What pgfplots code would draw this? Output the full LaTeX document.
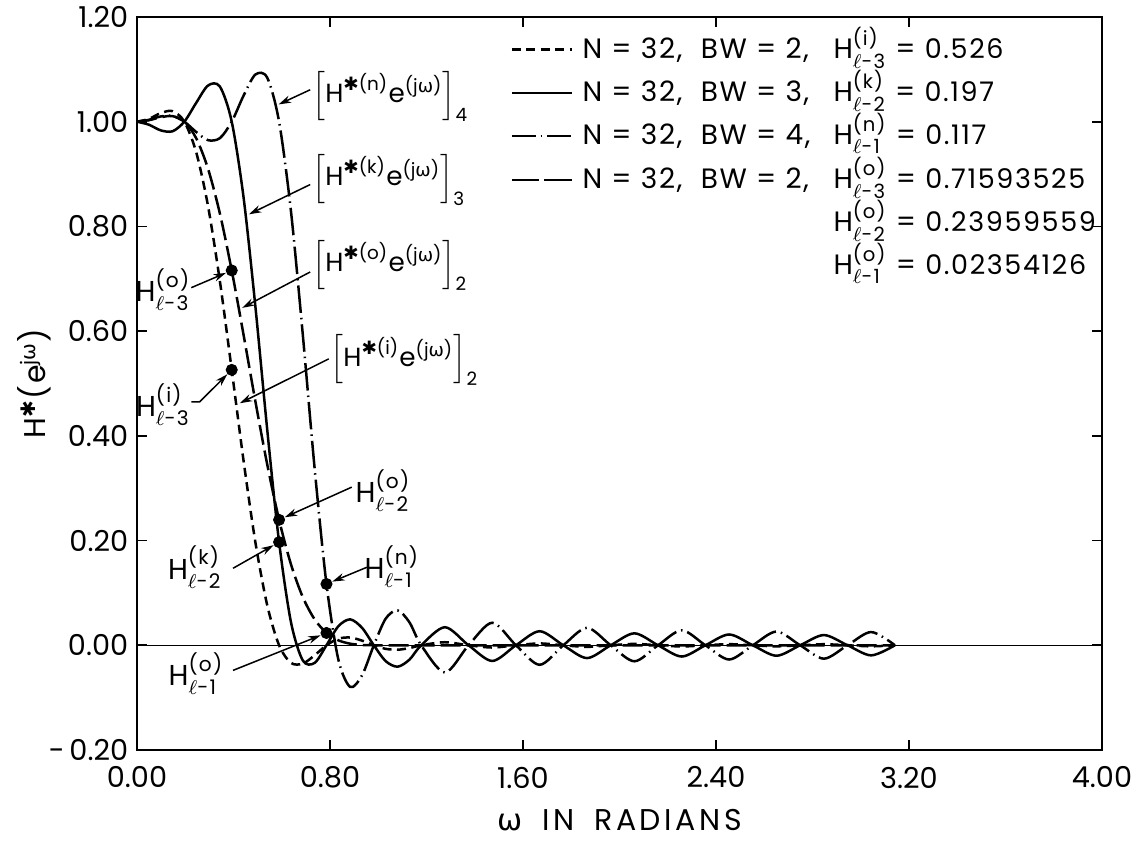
\documentclass[border=0pt]{standalone}
\usepackage{amsmath}
\usepackage{pgfplots}
\pgfplotsset{compat=1.18}
\usepackage{fontspec}
\setmainfont{Poppins}
\newfontfamily\dejavu{DejaVu Sans}
\newfontfamily\lsp[LetterSpace=6]{Poppins}
\newfontfamily\lspw[LetterSpace=12]{Poppins}
\usetikzlibrary{arrows.meta}

\newcommand{\lfont}{\fontsize{11.2}{13}\lsp}
\newcommand{\xfont}{\fontsize{12}{14}\lspw}
\newcommand{\yfont}{\fontsize{12}{14}\lsp}
\newcommand{\vfont}{\fontsize{10.8}{13}\selectfont}
\newcommand{\pfont}{\fontsize{11.5}{13}\lsp}
\newcommand{\bfont}{\fontsize{10.5}{12}\selectfont}
\newcommand{\tfont}{\fontsize{11.5}{13}\selectfont}
\newcommand{\Hl}[2]{H$^{\text{(#1)}}_{\ell\text{-#2}}$}
\newcommand{\Hb}[2]{$\Big[\text{H}^{\text{\dejavu ✱}\text{(#1)}}\text{e}^{\text{(j{\dejavu ω})}}\Big]_{\text{#2}}$}
\tikzset{
  lt/.style={anchor=base west, inner sep=0pt, font=\lfont},
  an/.style={inner sep=0pt, font=\pfont},
  bn/.style={inner sep=0pt, anchor=west, font=\bfont},
  lead/.style={line width=0.6pt, -{Stealth[length=5pt,width=3pt]}, shorten >=1.5pt},
}

\begin{document}
\begin{tikzpicture}
\path[use as bounding box] (-54.8pt,-36.4pt) rectangle (398.8pt,300pt);
\begin{axis}[
  at={(0,0)}, anchor=south west,
  width=386pt, height=293.2pt, scale only axis,
  xmin=0, xmax=4, ymin=-0.2, ymax=1.2,
  clip=false,
  xtick={0,0.8,1.6,2.4,3.2,4},
  xticklabels={0.00,0.80,1.60,2.40,3.20,4.00},
  ytick={-0.2,0,0.2,0.4,0.6,0.8,1.0,1.2},
  yticklabels={-\,0.20,0.00,0.20,0.40,0.60,0.80,1.00,1.20},
  tick align=inside, major tick length=4pt,
  axis line style={line width=1.1pt},
  tick style={line width=0.7pt, black},
  ticklabel style={font=\tfont},
  xticklabel style={yshift=-3.2pt},
  xlabel={{\dejavu ω}\hspace{8pt}IN\hspace{8pt}RADIANS},
  ylabel={H$^{\text{\dejavu ✱}}$(e$^{\text{j{\dejavu ω}}}$)},
  label style={inner sep=0pt},
  xlabel style={font=\xfont, at={(axis description cs:0.5,-0.096)}, anchor=center},
  ylabel style={font=\yfont, at={(axis description cs:-0.106,0.5)}, anchor=center},
]
% zero line
\addplot[line width=0.6pt] coordinates {(0,0) (4,0)};

% dashed: N=32, BW=2, H(i)=0.526
\addplot[line width=1pt, smooth, dash pattern=on 3.6pt off 2.2pt] coordinates {
(0,1.0) (0.0491,1.0053) (0.0982,1.0164) (0.1473,1.0202) (0.1963,1.0)
(0.2454,0.9417) (0.2945,0.8387) (0.3436,0.6953) (0.3927,0.526)
(0.4418,0.3522) (0.4909,0.1963) (0.5400,0.0761) (0.5890,0)
(0.6381,-0.0336) (0.6872,-0.0351) (0.7363,-0.0191) (0.7854,0)
(0.8345,0.0125) (0.8836,0.0148) (0.9327,0.0089) (0.9817,0)
(1.0308,-0.0068) (1.0799,-0.0085) (1.1290,-0.0054) (1.1781,0)
(1.2763,0.0058) (1.3744,0) (1.4726,-0.0043) (1.5708,0) (1.6690,0.0035)
(1.7671,0) (1.8653,-0.0030) (1.9635,0) (2.0617,0.0026) (2.1598,0)
(2.2580,-0.0023) (2.3562,0) (2.4544,0.0021) (2.5525,0) (2.6507,-0.0020)
(2.7489,0) (2.8471,0.0020) (2.9452,0) (3.0434,-0.0020) (3.1416,0)
};

% solid: N=32, BW=3, H(k)=0.197
\addplot[line width=1pt, smooth] coordinates {
(0,1.0) (0.0491,0.9943) (0.0982,0.9835) (0.1473,0.9817) (0.1963,1.0)
(0.2454,1.0360) (0.2945,1.0691) (0.3436,1.0671) (0.3927,1.0)
(0.4418,0.8552) (0.4909,0.6463) (0.5400,0.4110) (0.5890,0.197)
(0.6381,0.0445) (0.6872,-0.0290) (0.7363,-0.0337) (0.7854,0)
(0.8345,0.0363) (0.8836,0.0495) (0.9327,0.0334) (0.9817,0)
(1.0308,-0.0303) (1.0799,-0.0409) (1.1290,-0.0276) (1.1781,0)
(1.2763,0.0345) (1.3744,0) (1.4726,-0.0300) (1.5708,0) (1.6690,0.0268)
(1.7671,0) (1.8653,-0.0245) (1.9635,0) (2.0617,0.0228) (2.1598,0)
(2.2580,-0.0215) (2.3562,0) (2.4544,0.0206) (2.5525,0) (2.6507,-0.0200)
(2.7489,0) (2.8471,0.0195) (2.9452,0) (3.0434,-0.0193) (3.1416,0)
};

% dash-dot: N=32, BW=4, H(n)=0.117
\addplot[line width=1pt, smooth, dash pattern=on 11pt off 2pt on 0.6pt off 2pt] coordinates {
(0,1.0) (0.0491,1.0035) (0.0982,1.0100) (0.1473,1.0108) (0.1963,1.0)
(0.2454,0.9804) (0.2945,0.9647) (0.3436,0.9686) (0.3927,1.0)
(0.4418,1.0498) (0.4909,1.0901) (0.5400,1.0839) (0.5890,1.0)
(0.6381,0.8296) (0.6872,0.5936) (0.7363,0.3379) (0.7854,0.117)
(0.8345,-0.0270) (0.8836,-0.0795) (0.9327,-0.0575) (0.9817,0)
(1.0308,0.0508) (1.0799,0.0668) (1.1290,0.0441) (1.1781,0)
(1.2763,-0.0520) (1.3744,0) (1.4726,0.0430) (1.5708,0) (1.6690,-0.0373)
(1.7671,0) (1.8653,0.0334) (1.9635,0) (2.0617,-0.0306) (2.1598,0)
(2.2580,0.0286) (2.3562,0) (2.4544,-0.0272) (2.5525,0) (2.6507,0.0262)
(2.7489,0) (2.8471,-0.0256) (2.9452,0) (3.0434,0.0253) (3.1416,0)
};

% long dash: N=32, BW=2, H(o)
\addplot[line width=1pt, smooth, dash pattern=on 8pt off 2.4pt] coordinates {
(0,1.0) (0.0491,1.0028) (0.0982,1.0085) (0.1473,1.0106) (0.1963,1.0)
(0.2454,0.9684) (0.2945,0.9101) (0.3436,0.8246) (0.3927,0.7159)
(0.4418,0.5927) (0.4909,0.4654) (0.5400,0.3449) (0.5890,0.2396)
(0.6381,0.1548) (0.6872,0.0920) (0.7363,0.0495) (0.7854,0.0235)
(0.8345,0.0095) (0.8836,0.0030) (0.9327,0.0006) (0.9817,0)
(1.0799,0) (1.1781,0) (1.5708,0) (1.9635,0) (2.3562,0) (2.7489,0) (3.1416,0)
};

% sample dots
\addplot[only marks, mark=*, mark size=2.2pt] coordinates {
(0.3927,0.526) (0.3927,0.7159) (0.5890,0.197) (0.5890,0.2396) (0.7854,0.117) (0.7854,0.0235)};

% legend
\draw[line width=1pt, dash pattern=on 3.6pt off 2.2pt] (axis cs:1.554,1.138) -- (axis cs:1.803,1.138);
\draw[line width=1pt] (axis cs:1.554,1.055) -- (axis cs:1.803,1.055);
\draw[line width=1pt, dash pattern=on 9.5pt off 2pt on 0.6pt off 2pt] (axis cs:1.554,0.973) -- (axis cs:1.803,0.973);
\draw[line width=1pt, dash pattern=on 11pt off 2pt] (axis cs:1.554,0.889) -- (axis cs:1.803,0.889);
\node[lt] at (axis cs:1.845,1.1205) {N = 32,};
\node[lt] at (axis cs:1.845,1.0382) {N = 32,};
\node[lt] at (axis cs:1.845,0.956) {N = 32,};
\node[lt] at (axis cs:1.845,0.8719) {N = 32,};
\node[lt] at (axis cs:2.335,1.1205) {BW = 2,};
\node[lt] at (axis cs:2.335,1.0382) {BW = 3,};
\node[lt] at (axis cs:2.335,0.956) {BW = 4,};
\node[lt] at (axis cs:2.335,0.8719) {BW = 2,};
\node[lt] at (axis cs:2.885,1.1205) {\Hl{i}{3} = {\vfont 0.526}};
\node[lt] at (axis cs:2.885,1.0382) {\Hl{k}{2} = {\vfont 0.197}};
\node[lt] at (axis cs:2.885,0.956) {\Hl{n}{1} = {\vfont 0.117}};
\node[lt] at (axis cs:2.885,0.8719) {\Hl{o}{3} = {\vfont 0.71593525}};
\node[lt] at (axis cs:2.885,0.7897) {\Hl{o}{2} = {\vfont 0.23959559}};
\node[lt] at (axis cs:2.885,0.7075) {\Hl{o}{1} = {\vfont 0.02354126}};

% bracket labels
\node[bn] at (axis cs:0.725,1.048) {\Hb{n}{4}};
\draw[lead] (axis cs:0.718,1.061) -- (axis cs:0.573,1.030);
\node[bn] at (axis cs:0.725,0.889) {\Hb{k}{3}};
\draw[lead] (axis cs:0.718,0.880) -- (axis cs:0.450,0.820);
\node[bn] at (axis cs:0.725,0.725) {\Hb{o}{2}};
\draw[lead] (axis cs:0.718,0.713) -- (axis cs:0.422,0.641);
\node[bn] at (axis cs:0.800,0.545) {\Hb{i}{2}};
\draw[lead] (axis cs:0.795,0.547) -- (axis cs:0.412,0.459);

% point labels
\node[an] at (axis cs:0.108,0.679) {\Hl{o}{3}};
\draw[lead, shorten >=2.5pt] (axis cs:0.225,0.683) -- (axis cs:0.3927,0.7159);
\node[an] at (axis cs:0.108,0.459) {\Hl{i}{3}};
\draw[lead, shorten >=2.5pt] (axis cs:0.225,0.465) -- (axis cs:0.26,0.465) -- (axis cs:0.3927,0.526);
\node[an] at (axis cs:1.020,0.296) {\Hl{o}{2}};
\draw[lead, shorten >=2.5pt] (axis cs:0.890,0.302) -- (axis cs:0.5890,0.2396);
\node[an] at (axis cs:0.240,0.149) {\Hl{k}{2}};
\draw[lead, shorten >=2.5pt] (axis cs:0.398,0.147) -- (axis cs:0.5890,0.197);
\node[an] at (axis cs:1.057,0.151) {\Hl{n}{1}};
\draw[lead, shorten >=2.5pt] (axis cs:0.953,0.149) -- (axis cs:0.7854,0.117);
\node[an] at (axis cs:0.245,-0.054) {\Hl{o}{1}};
\draw[lead, shorten >=2.5pt] (axis cs:0.398,-0.048) -- (axis cs:0.7854,0.0235);
\end{axis}
\end{tikzpicture}
\end{document}
